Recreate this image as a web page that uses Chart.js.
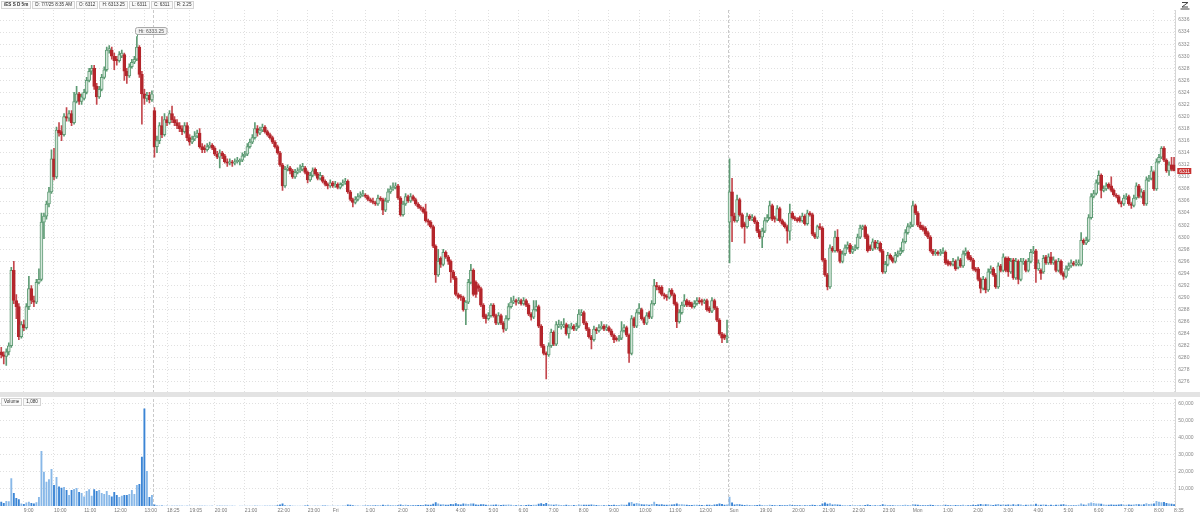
<!DOCTYPE html>
<html>
<head>
<meta charset="utf-8">
<script src="https://cdn.jsdelivr.net/npm/chart.js@4.4.1/dist/chart.umd.min.js"></script>
<style>
  body { margin: 0; width: 1200px; height: 515px; overflow: hidden; background: #fff; font-family: "Liberation Sans", Arial, sans-serif; }
  #priceChart { position: absolute; left: 0; top: 0; }
  #volumeChart { position: absolute; left: 0; top: 397px; }
  #band { position: absolute; left: 0; top: 392px; width: 1200px; height: 5px; background: #e3e3e3; }
  .row { position: absolute; left: 1px; display: flex; gap: 1px; }
  .row span { border: 1px solid #d4d4d4; background: #fafafa; font-size: 4.6px; line-height: 6px; padding: 0 2px; color: #333; white-space: nowrap; }
  #hdr { top: 1px; }
  #volHdr { top: 398px; }
  #zoomIcon { position: absolute; left: 1179px; top: 1px; }
</style>
</head>
<body>
<canvas id="priceChart" width="1200" height="392"></canvas>
<div id="band"></div>
<canvas id="volumeChart" width="1200" height="118"></canvas>
<div class="row" id="hdr">
  <span style="font-weight:bold">/ES S D 5m</span>
  <span>D: 7/7/25 8:35 AM</span>
  <span id="hO"></span><span id="hH"></span><span id="hL"></span><span id="hC"></span><span id="hR"></span>
</div>
<div class="row" id="volHdr"><span>Volume</span><span id="hV"></span></div>
<svg id="zoomIcon" width="12" height="9"><path d="M3 1.5 H9 L3 6 H9" fill="none" stroke="#444" stroke-width="1"/><path d="M1.5 8 H10.5" stroke="#444" stroke-width="1"/></svg>
<script>
// /ES 5 minute bars, Thu 3 Jul 8:15 -> Mon 7 Jul 8:35
const opens = [
  6281, 6280.5, 6280.25, 6281, 6282, 6294.5, 6289.5, 6288.5, 6283.5, 6285.5,
  6285, 6288.5, 6291.5, 6289.5, 6289.25, 6292.5, 6293, 6302.5, 6303.5, 6305.5,
  6307.5, 6313, 6310, 6317.75, 6317.5, 6317, 6320, 6319.75, 6320.5, 6319,
  6322.5, 6323.75, 6322.5, 6323, 6324, 6326, 6327.5, 6328, 6325, 6323.25,
  6324.5, 6326.5, 6327.75, 6331, 6331, 6330, 6329.5, 6329.25, 6330, 6330.25,
  6327.5, 6326.75, 6328.25, 6329, 6329.5, 6331.5, 6327, 6323.75, 6323, 6323.5,
  6322.75, 6321, 6315, 6316, 6318.5, 6317, 6319.5, 6319, 6320.5, 6319.5,
  6319, 6318.5, 6318, 6317.5, 6318.5, 6316.5, 6315.75, 6316.25, 6316.75, 6317.25,
  6315, 6314.75, 6314.5, 6315, 6315.25, 6314.75, 6313.75, 6313.25, 6314, 6313.5,
  6312.5, 6312.25, 6312.5, 6312.25, 6312.5, 6312.5, 6312.75, 6313.5, 6313.75, 6315,
  6315.75, 6316.5, 6318, 6317.25, 6317.75, 6318.25, 6317.5, 6317, 6316.5, 6315.75,
  6315, 6314, 6312, 6308.5, 6311.25, 6311.5, 6311, 6310, 6310.75, 6311,
  6311.25, 6311.5, 6310.75, 6309.5, 6310.25, 6311.25, 6310.5, 6309.75, 6310, 6309.25,
  6308.75, 6308.5, 6309, 6308.5, 6308.75, 6308.25, 6308.75, 6309, 6309.25, 6307.5,
  6306.25, 6305.75, 6306.25, 6306.75, 6307, 6307, 6306.75, 6306.25, 6306, 6305.75,
  6305.5, 6306.5, 6306.25, 6304.5, 6306, 6307.5, 6308, 6308.25, 6308.5, 6306.5,
  6303.75, 6305.5, 6306.75, 6306, 6306.75, 6306.25, 6305.5, 6305, 6304.75, 6304.25,
  6302.75, 6302.5, 6301.75, 6298.5, 6293.75, 6296.5, 6295.5, 6297.5, 6296.75, 6296,
  6294.25, 6293.25, 6290.5, 6290.25, 6290, 6288, 6289.25, 6292.5, 6294.5, 6292.5,
  6292, 6291.5, 6288.75, 6287, 6286.5, 6287, 6288.75, 6287, 6285.75, 6287,
  6285.75, 6284.75, 6286.5, 6288.5, 6289.25, 6289.5, 6289.25, 6289.5, 6289, 6289.5,
  6288.75, 6287.25, 6286.75, 6288, 6288.5, 6285.25, 6282, 6280.75, 6280.5, 6282,
  6284.25, 6282.25, 6285.25, 6285.25, 6285.25, 6285.5, 6284, 6285, 6285.25, 6284.75,
  6285.25, 6287.25, 6287.5, 6285.75, 6284.75, 6283.5, 6283, 6284.75, 6284.5, 6285,
  6285.25, 6284.75, 6285, 6284.5, 6283.75, 6283.25, 6283, 6283.25, 6284.5, 6285,
  6283.75, 6280.75, 6286.5, 6285.25, 6287.5, 6288, 6286.5, 6285.75, 6287.5, 6286.75,
  6289, 6292, 6291.75, 6291.75, 6290.5, 6290.25, 6290, 6291.25, 6290.5, 6289,
  6286, 6287.5, 6288.75, 6289.5, 6289.25, 6289, 6288.5, 6289, 6289.5, 6289.5,
  6289.25, 6289.5, 6288.25, 6287.75, 6289.5, 6288.25, 6286.25, 6284, 6283.75, 6283.25,
  6302.5, 6307.5, 6303.5, 6302.75, 6306.25, 6303.75, 6302.25, 6301.75, 6303.5, 6303,
  6303.25, 6302.5, 6301, 6300, 6301, 6302.75, 6303.25, 6305.25, 6303.25, 6303,
  6304.75, 6302.75, 6302.25, 6301.75, 6301, 6304, 6303.25, 6303, 6303.25, 6302.75,
  6303.5, 6302.25, 6304, 6303.75, 6300.5, 6300, 6301.75, 6301.5, 6296.25, 6293.75,
  6291.75, 6298.25, 6297.75, 6300, 6297.75, 6296, 6297.25, 6298.25, 6298.75, 6297.5,
  6298, 6298.25, 6300, 6301.5, 6301.75, 6300.25, 6298.5, 6298, 6299.25, 6298.25,
  6299, 6297.75, 6294.25, 6295.5, 6297, 6296.5, 6296, 6297, 6297.25, 6297.75,
  6299.25, 6300.75, 6301.75, 6302, 6305.25, 6304, 6302, 6301.75, 6301.5, 6300.75,
  6300, 6297.75, 6297.25, 6297.5, 6297.25, 6297.5, 6297.5, 6296, 6295.75, 6295.5,
  6296, 6295, 6296.25, 6295.25, 6297.25, 6297.5, 6296.75, 6296.25, 6294.75, 6294.75,
  6293, 6291.5, 6293, 6291.25, 6294.25, 6294.75, 6293.75, 6291.75, 6295.25, 6294.5,
  6296.5, 6296.5, 6294.25, 6296.25, 6293.25, 6296, 6293, 6295.75, 6296, 6294.5,
  6296, 6297.5, 6297.75, 6294.75, 6294.5, 6294.25, 6296.75, 6295.75, 6296.75, 6295.75,
  6296, 6294.5, 6296, 6294, 6293.5, 6294.75, 6295.25, 6295.75, 6295.5, 6295.5,
  6295.5, 6299.5, 6299, 6299.5, 6303.25, 6306.75, 6307.25, 6309, 6310.25, 6307.75,
  6308, 6308.75, 6308.5, 6307.75, 6307, 6306.75, 6305.75, 6305.5, 6306.5, 6306.75,
  6305.5, 6305.25, 6306.5, 6308.5, 6306.75, 6307.5, 6305.5, 6309.5, 6309.75, 6310.75,
  6308, 6312.5, 6313.25, 6314.75, 6312.75, 6311, 6312, 6312
];
const highs = [
  6281.75, 6281, 6281.5, 6282.5, 6295, 6296, 6290.5, 6289, 6286, 6286.25,
  6289, 6293.5, 6292, 6290.25, 6293, 6294.75, 6304, 6304, 6306, 6308.25,
  6314.5, 6314.75, 6318.25, 6319, 6318.5, 6320.5, 6321.5, 6321, 6321, 6324,
  6325, 6324, 6323.75, 6324.5, 6326.5, 6328, 6328.5, 6328.5, 6325.5, 6325,
  6327, 6328.25, 6331.5, 6331.75, 6331.5, 6330.5, 6330, 6330.75, 6331, 6330.5,
  6328, 6328.75, 6329.5, 6330, 6333.25, 6331.75, 6327.5, 6324.5, 6324, 6324,
  6324.25, 6321.5, 6316.75, 6319, 6320, 6320.5, 6320, 6321, 6321.75, 6320,
  6319.5, 6319, 6318.5, 6319, 6319, 6317, 6316.75, 6317.5, 6317.75, 6318,
  6315.5, 6315.25, 6315.5, 6315.75, 6315.5, 6315, 6314.25, 6314.5, 6314.25, 6313.75,
  6313, 6313, 6312.75, 6313, 6313.25, 6313, 6314, 6314.25, 6315.5, 6316.25,
  6317, 6319, 6318.5, 6318.25, 6318.75, 6318.5, 6317.75, 6317.25, 6316.75, 6316,
  6315.25, 6314.25, 6312.25, 6311.75, 6312, 6311.75, 6311.25, 6311.25, 6311.5, 6312,
  6312.25, 6311.75, 6311, 6310.75, 6311.5, 6311.5, 6310.75, 6310.75, 6310.25, 6309.5,
  6309, 6309.5, 6309.25, 6309.25, 6309, 6309, 6309.5, 6309.75, 6309.5, 6307.75,
  6306.5, 6306.75, 6307.25, 6307.5, 6307.75, 6307.25, 6307, 6306.5, 6306.5, 6306,
  6307, 6306.75, 6306.5, 6306.5, 6308, 6308.5, 6309, 6309, 6308.75, 6306.75,
  6306, 6307.25, 6307, 6307.25, 6307, 6306.5, 6305.75, 6305.25, 6305, 6305.5,
  6303, 6302.75, 6302, 6298.75, 6298, 6296.75, 6298, 6297.75, 6297, 6296.25,
  6294.5, 6293.5, 6290.75, 6290.5, 6290.25, 6289.5, 6293, 6295.5, 6294.75, 6292.75,
  6292.25, 6291.75, 6289, 6287.25, 6287.5, 6289, 6289, 6287.25, 6287.5, 6287.25,
  6286, 6287, 6289, 6290, 6290.25, 6289.75, 6290, 6289.75, 6290, 6289.75,
  6289, 6287.5, 6289.5, 6289.5, 6288.75, 6285.5, 6282.25, 6281, 6282.5, 6284.75,
  6284.5, 6286, 6286.25, 6286, 6286.5, 6285.75, 6285.5, 6285.75, 6285.5, 6285.75,
  6288, 6288, 6287.75, 6286, 6285, 6283.75, 6285.25, 6285, 6285.5, 6286,
  6285.5, 6285.5, 6285.25, 6284.75, 6284, 6283.5, 6283.75, 6286, 6285.5, 6285.25,
  6284, 6287, 6286.75, 6288, 6289, 6288.25, 6286.75, 6287.5, 6287.75, 6289.5,
  6293, 6292.5, 6292, 6292, 6290.75, 6290.5, 6291.5, 6291.5, 6290.75, 6289.25,
  6288, 6289.25, 6290.5, 6289.75, 6289.5, 6289.25, 6289.5, 6290, 6290, 6289.75,
  6289.75, 6289.75, 6288.5, 6290, 6289.75, 6288.5, 6286.5, 6284.25, 6284, 6286.25,
  6313, 6309.75, 6304, 6307, 6306.5, 6304, 6302.5, 6304, 6303.75, 6303.75,
  6303.5, 6302.75, 6301.25, 6301.5, 6303.25, 6303.75, 6306, 6305.5, 6303.5, 6305.25,
  6305, 6303, 6302.5, 6302, 6305.5, 6304.25, 6303.5, 6303.25, 6303.5, 6304,
  6303.75, 6304.5, 6304.25, 6304, 6300.75, 6302, 6302.25, 6301.75, 6296.5, 6294,
  6298.75, 6298.5, 6301, 6301.25, 6298, 6297.75, 6298.75, 6299.25, 6299, 6298.5,
  6298.75, 6300.5, 6302, 6302, 6302, 6300.5, 6298.75, 6299.75, 6299.5, 6299.5,
  6299.25, 6298, 6296, 6297.5, 6297.25, 6296.75, 6297.5, 6297.75, 6298.25, 6299.75,
  6301.25, 6302.25, 6302.5, 6306, 6305.5, 6304.25, 6302.5, 6302, 6301.75, 6301,
  6300.25, 6298, 6298, 6297.75, 6298, 6298.25, 6297.75, 6296.25, 6296, 6296.5,
  6296.25, 6296.75, 6296.5, 6297.75, 6298.25, 6297.75, 6297, 6296.5, 6295, 6295,
  6293.25, 6293.5, 6293.25, 6294.75, 6295.25, 6295, 6294, 6295.75, 6295.5, 6297.25,
  6296.75, 6296.75, 6296.5, 6296.5, 6296.5, 6296.25, 6296.5, 6296.5, 6296.25, 6296.5,
  6298, 6298.5, 6298, 6296.25, 6294.75, 6297, 6297, 6297.25, 6297.5, 6296.75,
  6296.25, 6296.5, 6296.25, 6294.25, 6295.25, 6295.75, 6296.25, 6296, 6296.25, 6296.25,
  6300.75, 6299.75, 6300, 6303.75, 6307.25, 6307.75, 6309.5, 6311, 6310.5, 6308.5,
  6309, 6309, 6310, 6308, 6307.25, 6307, 6306, 6307, 6307.25, 6307,
  6305.75, 6307, 6309, 6308.75, 6308, 6307.75, 6310, 6310.25, 6311.75, 6311,
  6313, 6313.75, 6315, 6315, 6313, 6312.5, 6313.25, 6313.25
];
const lows = [
  6280, 6279, 6278.75, 6280.5, 6281.75, 6289, 6286.5, 6283, 6283.25, 6284.5,
  6284.75, 6288, 6289, 6288.5, 6289, 6292.25, 6292.75, 6299.75, 6303, 6305,
  6307.25, 6309.5, 6309.75, 6316.75, 6316, 6316.75, 6319.25, 6319.25, 6318.5, 6318.75,
  6322.25, 6322, 6322, 6322.75, 6323.75, 6325.75, 6327, 6324.5, 6322, 6323,
  6324.25, 6326.25, 6327.5, 6330.5, 6329.5, 6327.75, 6328.5, 6329, 6329.75, 6326,
  6325.5, 6326.5, 6328, 6328.75, 6329.25, 6326.5, 6318.75, 6322, 6322.5, 6322.25,
  6322.5, 6313.25, 6314, 6315.5, 6316.5, 6316.75, 6318.5, 6318.75, 6319, 6318.5,
  6318, 6317.5, 6317, 6317.25, 6316, 6315.25, 6315.5, 6316, 6316.5, 6314.75,
  6314, 6314, 6314.25, 6314.75, 6314.5, 6313.5, 6313, 6311.5, 6313, 6312.25,
  6311.75, 6312, 6311.75, 6312, 6312.25, 6312, 6312.5, 6313.25, 6313.5, 6314.75,
  6315.5, 6316.25, 6316.75, 6317, 6317.5, 6317.25, 6316.75, 6316.25, 6315.5, 6314.75,
  6313.75, 6311.75, 6307.75, 6308.25, 6311, 6310.5, 6309.75, 6309.75, 6310.5, 6310.75,
  6311, 6310.5, 6309, 6309.25, 6310, 6310.25, 6309.5, 6309.5, 6309, 6308.5,
  6308, 6308.25, 6308.25, 6308.25, 6308, 6308, 6308.5, 6308.75, 6307.25, 6306,
  6305, 6305.5, 6306, 6306.5, 6306.75, 6306.5, 6306, 6305.75, 6305.5, 6305.25,
  6305.25, 6306, 6303.75, 6304.25, 6305.75, 6307.25, 6307.75, 6308, 6306.25, 6303.5,
  6303.5, 6305.25, 6305.75, 6305.75, 6306, 6305.25, 6304.75, 6304.5, 6304, 6302.5,
  6302, 6301.5, 6298.25, 6292.5, 6293.5, 6295, 6295.25, 6296.5, 6295.5, 6292.5,
  6293, 6290.25, 6289.75, 6289.5, 6287.75, 6285.5, 6289, 6292.25, 6290.25, 6290,
  6291, 6288.5, 6286.5, 6285.75, 6286.25, 6286.75, 6286.75, 6285.5, 6285.5, 6285.5,
  6284.25, 6284.5, 6286.25, 6288.25, 6289, 6288.75, 6289, 6288.75, 6288.75, 6288.5,
  6287, 6286.25, 6286.5, 6287.75, 6285, 6281.75, 6280.5, 6276.5, 6280.25, 6281.75,
  6282, 6282, 6285, 6284.75, 6285, 6283.75, 6283.25, 6284.75, 6284.5, 6284.5,
  6285, 6287, 6285.5, 6284.5, 6283.25, 6281.5, 6282.75, 6284, 6284.25, 6284.75,
  6284.5, 6284.5, 6284.25, 6283.5, 6282.5, 6282.75, 6282.75, 6283, 6284.25, 6283.5,
  6279.25, 6280.5, 6285, 6285, 6287.25, 6286.25, 6285.5, 6285.5, 6286.5, 6286.5,
  6288.75, 6291.25, 6290.75, 6290.25, 6289.75, 6289.5, 6289.75, 6290.25, 6288.75, 6285,
  6285.75, 6287.25, 6288.5, 6288.5, 6288.5, 6288.25, 6288.25, 6288.75, 6289, 6288.75,
  6289, 6287.75, 6287.5, 6287.5, 6288, 6286, 6283.75, 6282.5, 6283, 6282.5,
  6295.75, 6299.25, 6302.5, 6302.5, 6303.5, 6301.5, 6299, 6301.5, 6302.75, 6302.75,
  6302.25, 6300.75, 6299.75, 6298.25, 6300.75, 6302.5, 6303, 6302.75, 6302.5, 6302.75,
  6302.5, 6302, 6301.5, 6299, 6299.5, 6303, 6302.75, 6302.5, 6302.5, 6302.5,
  6302, 6302, 6303.5, 6300.25, 6299.75, 6299.75, 6301.25, 6296, 6293.5, 6291.25,
  6291.5, 6297.5, 6297.5, 6297.5, 6295.75, 6295.75, 6297, 6298, 6297.25, 6297.25,
  6297.75, 6298, 6299.75, 6301.25, 6299.75, 6297.5, 6297.75, 6297.75, 6298, 6298,
  6297.5, 6294, 6294, 6295.25, 6296.25, 6295.75, 6295.75, 6296.75, 6297, 6297.5,
  6299, 6300.5, 6301.5, 6301.75, 6303.75, 6301.75, 6301.25, 6301, 6300.25, 6299.75,
  6297.5, 6297, 6297, 6297, 6297, 6297.25, 6295.5, 6295.25, 6295.25, 6295.25,
  6294.5, 6294.75, 6295, 6295, 6297, 6296.25, 6296, 6294.5, 6294.25, 6292.75,
  6290.75, 6291.25, 6290.75, 6291, 6294, 6293.5, 6291.5, 6291.5, 6294.25, 6294.25,
  6294.25, 6293.5, 6294, 6293, 6293, 6292.25, 6292.75, 6295.5, 6294.25, 6294.25,
  6295.75, 6297.25, 6292.5, 6294.5, 6293, 6294, 6295.5, 6295.5, 6295.5, 6295.5,
  6294.25, 6294.25, 6293.75, 6293, 6293.25, 6294.5, 6295, 6295.25, 6295.25, 6295.25,
  6295.25, 6298.75, 6298.75, 6299.25, 6303, 6306.5, 6307, 6308.75, 6306.5, 6307.5,
  6307.75, 6308, 6307.5, 6306.75, 6306.5, 6305.5, 6305, 6305.25, 6306.25, 6305.25,
  6304.75, 6305, 6306.25, 6306.5, 6306.5, 6305.25, 6305.25, 6309.25, 6309.5, 6307.75,
  6307.75, 6312.25, 6313, 6312.5, 6310.75, 6310.25, 6311, 6311
];
const closes = [
  6280.5, 6280.25, 6281, 6282, 6294.5, 6289.5, 6288.5, 6283.5, 6285.5, 6285,
  6288.5, 6291.5, 6289.5, 6289.25, 6292.5, 6293, 6302.5, 6303.5, 6305.5, 6307.5,
  6313, 6310, 6317.75, 6317.25, 6317, 6320, 6319.75, 6320.5, 6319, 6322.5,
  6323.75, 6322.5, 6323.25, 6324, 6326, 6327.5, 6328, 6325, 6323.25, 6324.5,
  6326.5, 6327.75, 6331, 6331.25, 6330, 6329.25, 6329.25, 6330.25, 6330.5, 6327.5,
  6326.75, 6328.25, 6329, 6329.5, 6331.5, 6327, 6323.75, 6323, 6323.5, 6322.75,
  6323.75, 6315, 6316, 6318.5, 6317, 6319.5, 6319, 6320.5, 6319.5, 6319,
  6318.5, 6318, 6317.5, 6318.5, 6316.5, 6315.75, 6316.25, 6316.75, 6317.25, 6315,
  6314.5, 6314.5, 6315, 6315.25, 6314.75, 6313.75, 6313.25, 6314, 6313.5, 6312.5,
  6312.25, 6312.5, 6312.25, 6312.5, 6312.75, 6312.75, 6313.5, 6313.75, 6315, 6315.75,
  6316.5, 6318, 6317.25, 6317.75, 6318.25, 6317.5, 6317, 6316.5, 6315.75, 6315,
  6314, 6312, 6308.5, 6311.25, 6311.5, 6311, 6310, 6310.75, 6311, 6311.25,
  6311.75, 6310.75, 6309.5, 6310.25, 6311, 6310.5, 6309.75, 6310.25, 6309.25, 6308.75,
  6308.5, 6309, 6308.5, 6308.75, 6308.25, 6308.75, 6309, 6309.25, 6307.5, 6306.25,
  6305.75, 6306.25, 6306.75, 6307, 6307.25, 6306.75, 6306.25, 6306, 6305.75, 6305.5,
  6306.5, 6306.25, 6304.5, 6306, 6307.5, 6308, 6308.25, 6308.5, 6306.5, 6303.75,
  6305.5, 6306.75, 6306, 6306.75, 6306.25, 6305.5, 6305, 6304.75, 6304.25, 6302.75,
  6302.5, 6301.75, 6298.5, 6293.75, 6296, 6295.5, 6297.5, 6296.75, 6296, 6294.25,
  6293.25, 6290.5, 6290, 6290, 6288, 6289.25, 6292.5, 6294.5, 6290.5, 6290.5,
  6291.5, 6288.75, 6286.75, 6286.5, 6287, 6288.75, 6287, 6285.75, 6287, 6285.75,
  6284.75, 6286.5, 6288.5, 6289.25, 6289.5, 6289.25, 6289.5, 6289, 6289.5, 6288.75,
  6287.25, 6286.75, 6288, 6288.5, 6285.25, 6282, 6280.75, 6280.5, 6282, 6284.25,
  6282.25, 6285.5, 6285.5, 6285.5, 6285.5, 6284, 6285, 6285.25, 6284.75, 6285.25,
  6287.25, 6287.5, 6285.75, 6284.75, 6283.5, 6283, 6284.75, 6284.5, 6285, 6285.25,
  6284.75, 6285, 6284.5, 6283.75, 6283, 6283, 6283.25, 6284.5, 6285, 6283.75,
  6280.75, 6286.5, 6285.25, 6287.5, 6288.25, 6286.5, 6285.75, 6287, 6286.75, 6289,
  6292, 6291.75, 6291.25, 6290.5, 6290.25, 6290, 6291, 6290.5, 6289, 6286,
  6287.5, 6288.75, 6289.5, 6288.75, 6288.75, 6288.5, 6289, 6289.5, 6289.25, 6289.25,
  6289.5, 6288, 6287.75, 6289.5, 6288.25, 6286.25, 6284, 6283.25, 6283.25, 6283.5,
  6307.5, 6303.5, 6302.75, 6306.25, 6303.75, 6301.75, 6301.75, 6303.5, 6303, 6303.25,
  6302.5, 6301, 6300, 6301, 6302.75, 6303.25, 6305.25, 6303, 6303, 6304.75,
  6302.75, 6302.25, 6301.75, 6301, 6304, 6303.25, 6303, 6302.75, 6302.75, 6303.5,
  6302.25, 6304, 6303.75, 6300.5, 6300, 6301.75, 6301.5, 6296.25, 6293.75, 6291.75,
  6298.25, 6297.75, 6300, 6297.75, 6296, 6297.25, 6298.25, 6298.75, 6297.5, 6298,
  6298.25, 6300, 6301.5, 6301.75, 6300, 6297.75, 6298, 6299.25, 6298.25, 6299,
  6297.75, 6294.25, 6295.5, 6297, 6296.5, 6296, 6297, 6297.25, 6297.75, 6299.25,
  6300.75, 6301.75, 6302, 6305.25, 6304, 6302, 6301.5, 6301.25, 6300.5, 6300,
  6297.75, 6297.25, 6297.5, 6297.25, 6297.5, 6297.75, 6295.75, 6295.5, 6295.5, 6296,
  6294.75, 6296.25, 6295.25, 6297.25, 6297.75, 6296.5, 6296.25, 6294.75, 6294.5, 6293,
  6291.5, 6293, 6291.25, 6294.25, 6294.75, 6293.75, 6291.75, 6295.25, 6294.5, 6296.75,
  6294.5, 6294.25, 6296, 6293.25, 6296, 6293, 6296, 6296, 6294.5, 6296,
  6297.5, 6297.75, 6294.75, 6295.75, 6294, 6296.5, 6295.75, 6296.75, 6295.75, 6296.25,
  6294.5, 6296, 6294, 6293.5, 6294.75, 6295.25, 6295.75, 6295.5, 6295.75, 6295.75,
  6299.5, 6299, 6299.5, 6303.25, 6306.75, 6307.25, 6309, 6310.25, 6307.75, 6308,
  6308.5, 6308.25, 6307.75, 6307, 6306.75, 6305.75, 6305.5, 6306.5, 6306.75, 6305.5,
  6305.25, 6306.5, 6308.5, 6306.75, 6307.5, 6305.5, 6309.5, 6309.75, 6311, 6308,
  6312.5, 6313.25, 6314.75, 6312.75, 6311, 6312, 6311.25, 6311
];
const volumes = [
  2500, 1800, 3000, 2800, 16300, 7600, 4700, 4000, 1500, 1200,
  2000, 2500, 1800, 1400, 2200, 5300, 32300, 20200, 14300, 15700,
  21800, 12300, 17000, 11400, 10800, 11200, 9400, 6500, 9400, 10000,
  10600, 8200, 7600, 5600, 8800, 9800, 6000, 9800, 8800, 9400,
  7600, 7000, 8800, 6500, 5600, 8200, 6500, 5300, 6000, 6500,
  6500, 7000, 9400, 7000, 12300, 12900, 29000, 57400, 20600, 5300,
  6500, 900, 400, 300, 250, 200, 150, 120, 100, 180,
  90, 120, 80, 150, 100, 200, 140, 90, 110, 160,
  120, 90, 100, 80, 130, 70, 150, 240, 110, 90,
  100, 80, 120, 90, 70, 110, 100, 130, 160, 200,
  180, 260, 140, 120, 100, 150, 90, 110, 130, 200,
  420, 900, 1500, 600, 300, 250, 200, 180, 150, 220,
  190, 250, 400, 200, 150, 180, 210, 140, 250, 300,
  200, 180, 160, 220, 150, 200, 260, 300, 900, 700,
  500, 300, 250, 200, 280, 260, 320, 300, 240, 380,
  420, 300, 800, 600, 700, 550, 480, 420, 500, 900,
  650, 700, 500, 600, 450, 500, 600, 550, 480, 900,
  700, 800, 1300, 2200, 1500, 900, 1000, 750, 800, 1200,
  1100, 1600, 1000, 900, 1400, 1300, 1200, 1500, 1400, 900,
  800, 1100, 1000, 700, 600, 750, 800, 900, 700, 650,
  800, 750, 900, 700, 500, 450, 400, 500, 450, 600,
  700, 600, 800, 700, 1300, 1600, 1200, 1800, 1100, 900,
  800, 1000, 700, 600, 650, 700, 550, 500, 600, 500,
  900, 700, 750, 800, 700, 900, 700, 550, 500, 480,
  450, 500, 550, 600, 700, 500, 650, 900, 700, 800,
  2000, 2400, 1300, 1800, 1500, 1100, 900, 1000, 800, 1200,
  2500, 1200, 900, 1000, 800, 750, 700, 900, 1000, 1500,
  1100, 1000, 900, 700, 650, 600, 700, 750, 600, 550,
  500, 700, 800, 600, 900, 1000, 1400, 1200, 800, 900,
  5500, 2000, 900, 1200, 1000, 700, 600, 800, 500, 450,
  500, 600, 700, 650, 500, 450, 800, 600, 400, 500,
  550, 400, 450, 500, 900, 600, 450, 400, 450, 500,
  400, 550, 500, 800, 600, 500, 450, 1500, 2000, 1300,
  1600, 900, 1000, 900, 800, 600, 500, 450, 500, 400,
  450, 500, 600, 500, 550, 900, 600, 500, 450, 400,
  500, 1000, 700, 600, 500, 450, 500, 400, 450, 600,
  700, 650, 500, 1100, 900, 700, 500, 450, 500, 450,
  800, 600, 400, 350, 400, 450, 700, 500, 400, 450,
  600, 550, 500, 700, 500, 450, 500, 700, 600, 900,
  1200, 900, 1000, 1100, 700, 600, 900, 1200, 700, 900,
  800, 900, 700, 1000, 800, 1100, 900, 600, 700, 800,
  900, 700, 1300, 800, 700, 900, 700, 600, 700, 650,
  800, 700, 900, 1000, 700, 600, 550, 500, 600, 700,
  1500, 900, 800, 1600, 2000, 1800, 1400, 1500, 1300, 900,
  800, 700, 900, 800, 700, 900, 1000, 800, 700, 900,
  800, 900, 1200, 1000, 900, 1100, 1600, 1200, 1300, 1500,
  3000, 2500, 2200, 2400, 1800, 1500, 1300, 1080
];

// time axis: bar index of each labelled tick and its text
const tickBars = [9, 21, 33, 45, 57, 66, 75, 85, 97, 110, 122, 132, 145, 158, 169, 181, 194, 206, 218, 230,
  242, 254, 266, 278, 290, 302, 315, 327, 339, 351, 363, 375, 387, 399, 411, 423, 435, 447, 459, 467];
const tickNames = ['9:00', '10:00', '11:00', '12:00', '13:00', '18:25', '19:05', '20:00', '21:00', '22:00',
  '23:00', 'Fri', '1:00', '2:00', '3:00', '4:00', '5:00', '6:00', '7:00', '8:00',
  '9:00', '10:00', '11:00', '12:00', 'Sun', '19:00', '20:00', '21:00', '22:00', '23:00',
  'Mon', '1:00', '2:00', '3:00', '4:00', '5:00', '6:00', '7:00', '8:00', '8:35'];
const sessionStarts = [61, 290];

const priceTicks = [6276, 6278, 6280, 6282, 6284, 6286, 6288, 6290, 6292, 6294, 6296, 6298, 6300, 6302, 6304,
  6306, 6308, 6310, 6312, 6314, 6316, 6318, 6320, 6322, 6324, 6326, 6328, 6330, 6332, 6334, 6336];
const volumeTicks = [10000, 20000, 30000, 40000, 50000, 60000];

const n = closes.length;
if ([opens, highs, lows, volumes].some(a => a.length !== n)) {
  throw new Error('length mismatch ' + [opens.length, highs.length, lows.length, closes.length, volumes.length]);
}

// header readout from the last bar
const last = n - 1;
document.getElementById('hO').textContent = 'O: ' + opens[last];
document.getElementById('hH').textContent = 'H: ' + highs[last];
document.getElementById('hL').textContent = 'L: ' + lows[last];
document.getElementById('hC').textContent = 'C: ' + closes[last];
document.getElementById('hR').textContent = 'R: ' + (highs[last] - lows[last]).toFixed(2);
document.getElementById('hV').textContent = volumes[last].toLocaleString('en-US');

Chart.defaults.font.family = '"Liberation Sans", Arial, sans-serif';
Chart.defaults.font.size = 5;
Chart.defaults.color = '#7a7a7a';

const UP_LINE = '#5e9b74', UP_FILL = '#d3e6d9';
const DOWN = '#b4262c', DOWN_WICK = '#c4474d';
const isUp = closes.map((c, i) => c >= opens[i]);
const barIndex = closes.map((_, i) => i);
const GRID = '#e0e0e0';

const sessionLines = {
  id: 'sessionLines',
  beforeDatasetsDraw(chart) {
    const { ctx, chartArea: a, scales: { x } } = chart;
    const half = (x.getPixelForValue(1) - x.getPixelForValue(0)) / 2;
    ctx.save();
    ctx.strokeStyle = '#c9c9c9';
    ctx.lineWidth = 1;
    ctx.setLineDash([3, 2]);
    sessionStarts.forEach(i => {
      const px = Math.round(x.getPixelForValue(i) - half) + 0.5;
      ctx.beginPath();
      ctx.moveTo(px, a.top);
      ctx.lineTo(px, a.bottom);
      ctx.stroke();
    });
    ctx.restore();
  }
};

const priceMarks = {
  id: 'priceMarks',
  afterDatasetsDraw(chart) {
    const { ctx, chartArea: a, scales: { x, y } } = chart;
    ctx.save();
    ctx.font = '5px "Liberation Sans", Arial, sans-serif';
    ctx.textBaseline = 'middle';

    // session high label
    const hi = Math.max(...highs);
    const hiIdx = highs.indexOf(hi);
    const hx = x.getPixelForValue(hiIdx);
    const hy = y.getPixelForValue(hi);
    const txt = 'Hi: ' + hi.toFixed(2);
    const w = ctx.measureText(txt).width + 6;
    const bx = Math.round(hx - 2) + 0.5, by = Math.round(hy - 10) + 0.5;
    ctx.fillStyle = '#f3f3f3';
    ctx.strokeStyle = '#a9a9a9';
    ctx.beginPath();
    ctx.roundRect(bx, by, w, 7, 2);
    ctx.fill();
    ctx.stroke();
    ctx.fillStyle = '#555';
    ctx.fillText(txt, bx + 3, by + 3.7);
    ctx.strokeStyle = UP_LINE;
    ctx.beginPath();
    ctx.moveTo(Math.round(hx) + 0.5, by + 7);
    ctx.lineTo(Math.round(hx) + 0.5, hy);
    ctx.stroke();

    // last price tag on the axis
    const lc = closes[last];
    const ly = y.getPixelForValue(lc);
    ctx.fillStyle = '#c8302f';
    ctx.fillRect(a.right + 2, Math.round(ly - 3), 14, 6);
    ctx.fillStyle = '#fff';
    ctx.fillText(String(lc), a.right + 4, Math.round(ly - 3) + 3.2);
    ctx.restore();
  }
};

const xAxis = (showLabels) => ({
  offset: true,
  grid: { offset: false, color: GRID, drawTicks: false },
  border: { display: false, dash: [1, 2] },
  ticks: {
    display: showLabels, autoSkip: false, maxRotation: 0, minRotation: 0,
    align: 'start', padding: 2, color: '#777',
    callback: (value, i) => tickNames[i]
  },
  afterBuildTicks: s => { s.ticks = tickBars.map(v => ({ value: v })); },
  afterFit: s => { s.height = showLabels ? 9 : 0; s.paddingLeft = 0; s.paddingRight = 0; }
});

const yAxis = (min, max, ticks, fmt) => ({
  position: 'right',
  min: min,
  max: max,
  grid: { color: GRID, drawTicks: false },
  border: { color: '#d6d6d6', dash: [1, 2] },
  ticks: { padding: 3, color: '#888', callback: fmt },
  afterBuildTicks: s => { s.ticks = ticks.map(v => ({ value: v })); },
  afterFit: s => { s.width = 24.7; s.paddingTop = 0; s.paddingBottom = 0; }
});

new Chart(document.getElementById('priceChart'), {
  type: 'bar',
  data: {
    labels: barIndex,
    datasets: [{
      label: 'Wick',
      data: highs.map((h, i) => [lows[i], h]),
      backgroundColor: isUp.map(u => u ? UP_LINE : DOWN_WICK),
      barThickness: 1,
      grouped: false,
      order: 2
    }, {
      label: 'Body',
      data: opens.map((o, i) => [o, closes[i]]),
      backgroundColor: isUp.map(u => u ? UP_FILL : DOWN),
      borderColor: isUp.map(u => u ? UP_LINE : DOWN),
      borderWidth: 1,
      borderSkipped: false,
      barThickness: 3,
      minBarLength: 1,
      grouped: false,
      order: 1
    }]
  },
  options: {
    responsive: false,
    animation: false,
    events: [],
    layout: { padding: { top: 10 } },
    plugins: { legend: { display: false }, tooltip: { enabled: false } },
    scales: {
      x: xAxis(false),
      y: yAxis(6274.34, 6337.66, priceTicks, v => String(v))
    }
  },
  plugins: [sessionLines, priceMarks]
});

new Chart(document.getElementById('volumeChart'), {
  type: 'bar',
  data: {
    labels: barIndex,
    datasets: [{
      label: 'Volume',
      data: volumes,
      backgroundColor: isUp.map(u => u ? '#88b8e8' : '#3b85d5'),
      barPercentage: 0.75,
      categoryPercentage: 1
    }]
  },
  options: {
    responsive: false,
    animation: false,
    events: [],
    layout: { padding: { top: 2 } },
    plugins: { legend: { display: false }, tooltip: { enabled: false } },
    scales: {
      x: xAxis(true),
      y: yAxis(0, 62941, volumeTicks, v => v.toLocaleString('en-US'))
    }
  },
  plugins: [sessionLines]
});
</script>
</body>
</html>
